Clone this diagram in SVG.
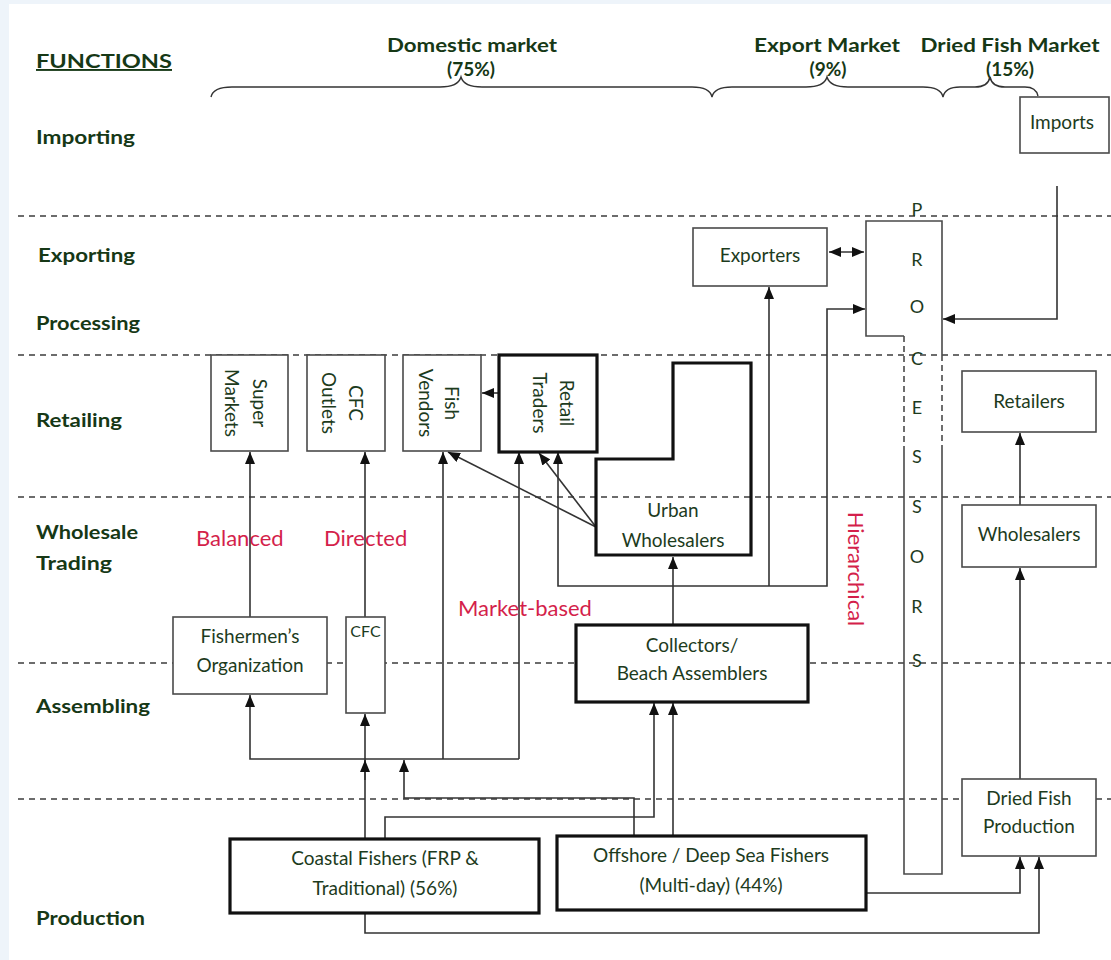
<svg xmlns="http://www.w3.org/2000/svg" width="1111" height="960" viewBox="0 0 1111 960">
<defs>
<style>
.bg{fill:#eef4fa}
.lbl{font-family:Lato,'Liberation Sans',sans-serif;font-weight:700;font-size:19px;fill:#163816}
.hdr{font-family:Lato,'Liberation Sans',sans-serif;font-weight:700;font-size:19px;fill:#163816;text-anchor:middle}
.t{font-family:Lato,'Liberation Sans',sans-serif;font-size:19px;fill:#1d3b1d;text-anchor:middle}
.red{font-family:Lato,'Liberation Sans',sans-serif;font-size:22px;fill:#d41f4b}
.thin{fill:#fff;stroke:#4a4a4a;stroke-width:1.6}
.thick{fill:#fff;stroke:#111;stroke-width:3.2}
.dash{stroke:#3c3c3c;stroke-width:1.6;stroke-dasharray:6 5;fill:none}
.c{fill:none;stroke:#333;stroke-width:1.6}
.brace{fill:none;stroke:#333;stroke-width:1.4}
</style>
<marker id="ah" viewBox="0 0 12 10" refX="12" refY="5" markerWidth="12" markerHeight="10" markerUnits="userSpaceOnUse" orient="auto-start-reverse">
<path d="M0,0 L12,5 L0,10 z" fill="#111"/>
</marker>
</defs>
<rect class="bg" x="0" y="0" width="1111" height="960"/>
<rect x="9" y="4" width="1102" height="956" fill="#fff"/>

<g id="grid">
<line class="dash" x1="18" y1="216" x2="1111" y2="216"/>
<line class="dash" x1="18" y1="355" x2="1111" y2="355"/>
<line class="dash" x1="18" y1="497" x2="1111" y2="497"/>
<line class="dash" x1="18" y1="663" x2="1111" y2="663"/>
<line class="dash" x1="18" y1="799" x2="1111" y2="799"/>
</g>

<g id="functions">
<text class="lbl" x="36" y="68" textLength="136" lengthAdjust="spacingAndGlyphs" text-decoration="underline">FUNCTIONS</text>
<text class="lbl" x="36" y="144" textLength="99" lengthAdjust="spacingAndGlyphs">Importing</text>
<text class="lbl" x="38" y="262" textLength="97" lengthAdjust="spacingAndGlyphs">Exporting</text>
<text class="lbl" x="36" y="330" textLength="104" lengthAdjust="spacingAndGlyphs">Processing</text>
<text class="lbl" x="36" y="427" textLength="86" lengthAdjust="spacingAndGlyphs">Retailing</text>
<text class="lbl" x="36" y="539" textLength="102" lengthAdjust="spacingAndGlyphs">Wholesale</text>
<text class="lbl" x="36" y="570" textLength="76" lengthAdjust="spacingAndGlyphs">Trading</text>
<text class="lbl" x="36" y="713" textLength="114" lengthAdjust="spacingAndGlyphs">Assembling</text>
<text class="lbl" x="36" y="925" textLength="109" lengthAdjust="spacingAndGlyphs">Production</text>
</g>

<g id="markets">
<text class="hdr" x="472" y="52" textLength="170" lengthAdjust="spacingAndGlyphs">Domestic market</text>
<text class="hdr" x="471" y="76">(75%)</text>
<text class="hdr" x="827" y="52" textLength="146" lengthAdjust="spacingAndGlyphs">Export Market</text>
<text class="hdr" x="828" y="76">(9%)</text>
<text class="hdr" x="1010" y="52" textLength="179" lengthAdjust="spacingAndGlyphs">Dried Fish Market</text>
<text class="hdr" x="1010" y="76">(15%)</text>
<path class="brace" d="M211,97 Q213,87 232,87 H440 Q458,87 461,77 Q464,87 482,87 H692 Q710,87 712,97 Q714,87 732,87 H806 Q824,87 827,77 Q830,87 848,87 H923 Q941,87 943,97 Q945,87 960,87 H975 Q988,87 990,77 Q992,87 1005,87 H1025 Q1036,87 1038,96"/>
</g>

<g id="connectors">
<path class="c" d="M1057,186 V319 H943" marker-end="url(#ah)"/>
<path class="c" d="M829,252 H864" marker-start="url(#ah)" marker-end="url(#ah)"/>
<path class="c" d="M558,452 V586 H827 V309 H865" marker-start="url(#ah)" marker-end="url(#ah)"/>
<path class="c" d="M769,586 V287" marker-end="url(#ah)"/>
<path class="c" d="M499,393 H482" marker-end="url(#ah)"/>
<path class="c" d="M596,527 L448,452" marker-end="url(#ah)"/>
<path class="c" d="M596,527 L539,453" marker-end="url(#ah)"/>
<path class="c" d="M250,617 V452" marker-end="url(#ah)"/>
<path class="c" d="M365,617 V452" marker-end="url(#ah)"/>
<path class="c" d="M443,759 V452" marker-end="url(#ah)"/>
<path class="c" d="M519,759 V452" marker-end="url(#ah)"/>
<path class="c" d="M519,759 H250 V695" marker-end="url(#ah)"/>
<path class="c" d="M365,839 V714" marker-end="url(#ah)"/>
<path class="c" d="M365,780 V760" marker-end="url(#ah)"/>
<path class="c" d="M634,836 V798 H404 V760" marker-end="url(#ah)"/>
<path class="c" d="M385,839 V817 H654 V703" marker-end="url(#ah)"/>
<path class="c" d="M673,836 V703" marker-end="url(#ah)"/>
<path class="c" d="M673,624 V557" marker-end="url(#ah)"/>
<path class="c" d="M866,893 H1020 V857" marker-end="url(#ah)"/>
<path class="c" d="M365,913 V933 H1039 V857" marker-end="url(#ah)"/>
<path class="c" d="M1020,779 V568" marker-end="url(#ah)"/>
<path class="c" d="M1020,505 V433" marker-end="url(#ah)"/>
</g>

<g id="imports">
<rect class="thin" x="1020" y="97" width="89" height="56"/>
<text class="t" x="1062" y="129">Imports</text>
</g>

<g id="exporters">
<rect class="thin" x="693" y="228" width="134" height="58"/>
<text class="t" x="760" y="262">Exporters</text>
</g>

<g id="processors">
<path class="c" style="stroke:#4a4a4a" d="M904,450 V874 H942 V450"/>
<path class="c" style="stroke:#4a4a4a" d="M942,355 V221 H866 V336 H904"/>
<path class="c" style="stroke:#4a4a4a;stroke-dasharray:6 4" d="M904,336 V450 M942,355 V450"/>
<text class="t" style="font-size:18px" x="917" y="216">P</text>
<text class="t" style="font-size:18px" x="917" y="266">R</text>
<text class="t" style="font-size:18px" x="917" y="313">O</text>
<text class="t" style="font-size:18px" x="917" y="365">C</text>
<text class="t" style="font-size:18px" x="917" y="414">E</text>
<text class="t" style="font-size:18px" x="917" y="463">S</text>
<text class="t" style="font-size:18px" x="917" y="513">S</text>
<text class="t" style="font-size:18px" x="917" y="563">O</text>
<text class="t" style="font-size:18px" x="917" y="613">R</text>
<text class="t" style="font-size:18px" x="917" y="667">S</text>
</g>

<g id="super-markets">
<rect class="thin" x="211" y="355" width="77" height="96"/>
<g transform="translate(250,403) rotate(90)"><text class="t" x="0" y="-3">Super</text><text class="t" x="0" y="25">Markets</text></g>
</g>
<g id="cfc-outlets">
<rect class="thin" x="307" y="355" width="78" height="96"/>
<g transform="translate(346,403) rotate(90)"><text class="t" x="0" y="-3">CFC</text><text class="t" x="0" y="24">Outlets</text></g>
</g>
<g id="fish-vendors">
<rect class="thin" x="403" y="355" width="78" height="96"/>
<g transform="translate(442,403) rotate(90)"><text class="t" x="0" y="-3">Fish</text><text class="t" x="0" y="23">Vendors</text></g>
</g>
<g id="retail-traders">
<rect class="thick" x="499" y="355" width="98" height="97"/>
<g transform="translate(548,403) rotate(90)"><text class="t" x="0" y="-12">Retail</text><text class="t" x="0" y="15">Traders</text></g>
</g>

<g id="urban-wholesalers">
<path class="c" style="stroke:#111;stroke-width:3.2" d="M596,459 H673 V363 H751 V555 H596 Z"/>
<text class="t" x="673" y="517">Urban</text>
<text class="t" x="673" y="547">Wholesalers</text>
</g>

<g id="retailers">
<rect class="thin" x="962" y="371" width="134" height="61"/>
<text class="t" x="1029" y="408">Retailers</text>
</g>
<g id="wholesalers">
<rect class="thin" x="962" y="505" width="134" height="62"/>
<text class="t" x="1029" y="541">Wholesalers</text>
</g>

<g id="fishermens-organization">
<rect class="thin" x="173" y="617" width="154" height="77"/>
<text class="t" x="250" y="643">Fishermen’s</text>
<text class="t" x="250" y="672">Organization</text>
</g>
<g id="cfc">
<rect class="thin" x="346" y="617" width="39" height="96"/>
<text class="t" style="font-size:16px" x="365.5" y="637">CFC</text>
</g>
<g id="collectors">
<rect class="thick" x="576" y="625" width="232" height="77"/>
<text class="t" x="692" y="652">Collectors/</text>
<text class="t" x="692" y="680">Beach Assemblers</text>
</g>
<g id="dried-fish-production">
<rect class="thin" x="962" y="779" width="134" height="77"/>
<text class="t" x="1029" y="805">Dried Fish</text>
<text class="t" x="1029" y="833">Production</text>
</g>
<g id="coastal-fishers">
<rect class="thick" x="230" y="839" width="309" height="74"/>
<text class="t" x="385" y="865">Coastal Fishers (FRP &amp;</text>
<text class="t" x="385" y="895">Traditional) (56%)</text>
</g>
<g id="offshore-fishers">
<rect class="thick" x="557" y="836" width="309" height="74"/>
<text class="t" x="711" y="862">Offshore / Deep Sea Fishers</text>
<text class="t" x="711" y="892">(Multi-day) (44%)</text>
</g>

<g id="governance-labels">
<text class="red" x="196" y="546">Balanced</text>
<text class="red" x="324" y="546">Directed</text>
<text class="red" x="458" y="616">Market-based</text>
<text class="red" transform="translate(848,569) rotate(90)" text-anchor="middle">Hierarchical</text>
</g>
</svg>
